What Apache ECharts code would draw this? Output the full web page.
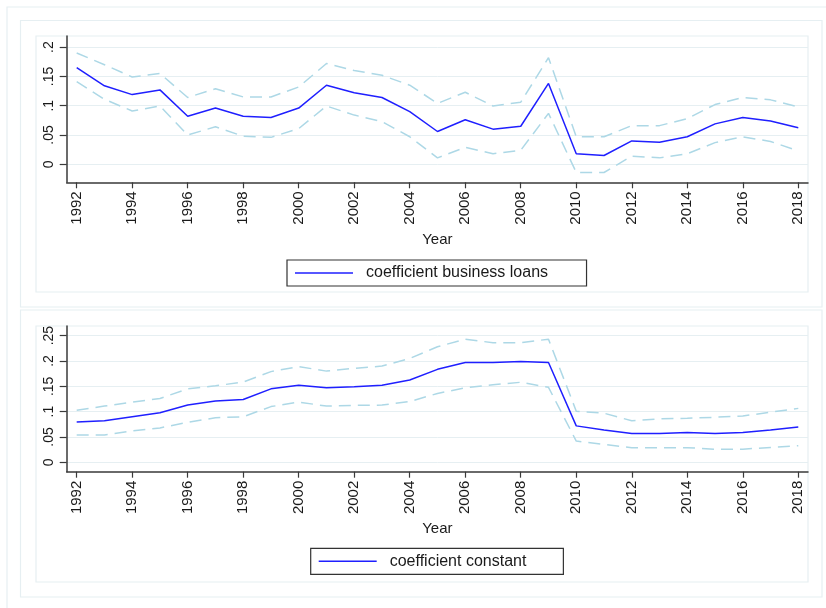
<!DOCTYPE html>
<html>
<head>
<meta charset="utf-8">
<script src="https://cdn.jsdelivr.net/npm/echarts@6.0.0/dist/echarts.min.js"></script>
<style>
  html, body { margin: 0; padding: 0; background: #ffffff; }
  #chart { width: 826px; height: 608px; }
</style>
</head>
<body>
<div id="chart"></div>
<script>
// Year axis
const years = [1992, 1993, 1994, 1995, 1996, 1997, 1998, 1999, 2000, 2001, 2002, 2003, 2004,
               2005, 2006, 2007, 2008, 2009, 2010, 2011, 2012, 2013, 2014, 2015, 2016, 2017, 2018];
const yearTicks = [1992, 1994, 1996, 1998, 2000, 2002, 2004, 2006, 2008, 2010, 2012, 2014, 2016, 2018];

// Business loans coefficient with its confidence bounds
const loansCoef  = [0.165, 0.134, 0.119, 0.127, 0.082, 0.096, 0.082, 0.080, 0.096, 0.135, 0.122, 0.114, 0.090,
                    0.056, 0.076, 0.060, 0.065, 0.138, 0.018, 0.015, 0.040, 0.0375, 0.047, 0.069, 0.080, 0.074, 0.0625];
const loansUpper = [0.190, 0.170, 0.149, 0.155, 0.114, 0.129, 0.115, 0.115, 0.132, 0.172, 0.160, 0.152, 0.135,
                    0.104, 0.123, 0.0995, 0.106, 0.182, 0.047, 0.047, 0.066, 0.066, 0.078, 0.102, 0.114, 0.110, 0.098];
const loansLower = [0.141, 0.111, 0.091, 0.0995, 0.050, 0.064, 0.048, 0.046, 0.061, 0.0995, 0.084, 0.073, 0.047,
                    0.011, 0.029, 0.018, 0.024, 0.087, -0.014, -0.014, 0.014, 0.011, 0.018, 0.037, 0.047, 0.039, 0.023];

// Constant coefficient with its confidence bounds
const constCoef  = [0.0796, 0.082, 0.090, 0.098, 0.113, 0.121, 0.124, 0.145, 0.152, 0.147, 0.149, 0.152, 0.1625,
                    0.1835, 0.197, 0.197, 0.199, 0.197, 0.072, 0.064, 0.057, 0.057, 0.059, 0.057, 0.059, 0.064, 0.070];
const constUpper = [0.103, 0.111, 0.119, 0.126, 0.145, 0.151, 0.1585, 0.179, 0.189, 0.180, 0.1855, 0.190, 0.205,
                    0.228, 0.243, 0.236, 0.236, 0.243, 0.101, 0.097, 0.082, 0.086, 0.087, 0.089, 0.0915, 0.099, 0.1065];
const constLower = [0.054, 0.054, 0.062, 0.068, 0.079, 0.088, 0.090, 0.110, 0.119, 0.111, 0.1125, 0.113, 0.120,
                    0.136, 0.147, 0.153, 0.158, 0.148, 0.042, 0.0355, 0.029, 0.029, 0.029, 0.026, 0.026, 0.0295, 0.033];

// Tick values on the two value axes
const yTicksTop = [0, 0.05, 0.1, 0.15, 0.2];
const yTicksBottom = [0, 0.05, 0.1, 0.15, 0.2, 0.25];

const FONT = "'Liberation Sans', Arial, sans-serif";
const INK = '#1a1a1a';
const AXIS = '#3a3a3a';
const FRAME = '#e6eff2';
const MAIN = '#1f1fff';
const BAND = '#add8e6';

const pairs = vals => vals.map((v, i) => [years[i], v]);
const fmtY = v => v === 0 ? '0' : String(v).replace(/^0\./, '.');

function xAxisFor(gridIndex) {
  return {
    type: 'value', gridIndex,
    min: 1991.64, max: 2018.35,
    name: 'Year', nameLocation: 'middle', nameGap: 50,
    nameTextStyle: { fontFamily: FONT, fontSize: 15, color: INK },
    axisLine: { show: true, onZero: false, lineStyle: { color: AXIS, width: 1.5 } },
    axisTick: { show: true, length: 6, customValues: yearTicks, lineStyle: { color: AXIS, width: 1.2 } },
    axisLabel: { customValues: yearTicks, rotate: 90, margin: 9, fontFamily: FONT, fontSize: 15, color: INK,
                 formatter: v => String(v) },
    splitLine: { show: false }
  };
}

function yAxisFor(gridIndex, min, max, ticks) {
  return {
    type: 'value', gridIndex, min, max,
    axisLine: { show: true, onZero: false, lineStyle: { color: AXIS, width: 1.5 } },
    axisTick: { show: true, length: 7, customValues: ticks, lineStyle: { color: AXIS, width: 1.2 } },
    axisLabel: { customValues: ticks, rotate: 90, margin: 11, fontFamily: FONT, fontSize: 14, color: INK,
                 formatter: fmtY },
    splitLine: { show: true, lineStyle: { color: FRAME, width: 1 } }
  };
}

function lineSeries(name, vals, idx, dashed) {
  return {
    type: 'line', name, data: pairs(vals),
    xAxisIndex: idx, yAxisIndex: idx,
    symbol: 'none', silent: true, animation: false,
    z: dashed ? 2 : 3,
    lineStyle: dashed ? { color: BAND, width: 1.5, type: [12, 7] } : { color: MAIN, width: 1.5 },
    itemStyle: { color: dashed ? BAND : MAIN }
  };
}

function legendFor(name, left, top, padRight) {
  return {
    data: [name], left, top,
    orient: 'horizontal',
    icon: 'rect', itemWidth: 58, itemHeight: 1.6,
    padding: [5, padRight, 5, 8],
    borderColor: '#333', borderWidth: 1.2, backgroundColor: '#fff',
    selectedMode: false,
    textStyle: { fontFamily: FONT, fontSize: 16, color: INK, padding: [0, 0, 0, 8] }
  };
}

function frame(x, y, w, h) {
  return { type: 'rect', z: -10, silent: true,
           shape: { x, y, width: w, height: h },
           style: { fill: 'none', stroke: FRAME, lineWidth: 1.2 } };
}

const chart = echarts.init(document.getElementById('chart'), null, { renderer: 'canvas' });
chart.setOption({
  backgroundColor: '#ffffff',
  animation: false,
  graphic: [
    frame(7, 7, 830, 610),
    frame(20.5, 20.5, 801.5, 286.5),
    frame(36, 36, 772, 256),
    frame(20.5, 310, 801.5, 287),
    frame(36, 326, 772, 256)
  ],
  grid: [
    { left: 66.7, top: 36, width: 741.3, height: 146.3, outerBoundsMode: 'none' },
    { left: 66.7, top: 326, width: 741.3, height: 145.7, outerBoundsMode: 'none' }
  ],
  xAxis: [xAxisFor(0), xAxisFor(1)],
  yAxis: [
    yAxisFor(0, -0.0307, 0.219, yTicksTop),
    yAxisFor(1, -0.0184, 0.269, yTicksBottom)
  ],
  legend: [
    legendFor('coefficient business loans', 287, 260, 38.5),
    legendFor('coefficient constant', 310.7, 548.3, 37)
  ],
  series: [
    lineSeries('upper bound business loans', loansUpper, 0, true),
    lineSeries('lower bound business loans', loansLower, 0, true),
    lineSeries('coefficient business loans', loansCoef, 0, false),
    lineSeries('upper bound constant', constUpper, 1, true),
    lineSeries('lower bound constant', constLower, 1, true),
    lineSeries('coefficient constant', constCoef, 1, false)
  ]
});
</script>
</body>
</html>
